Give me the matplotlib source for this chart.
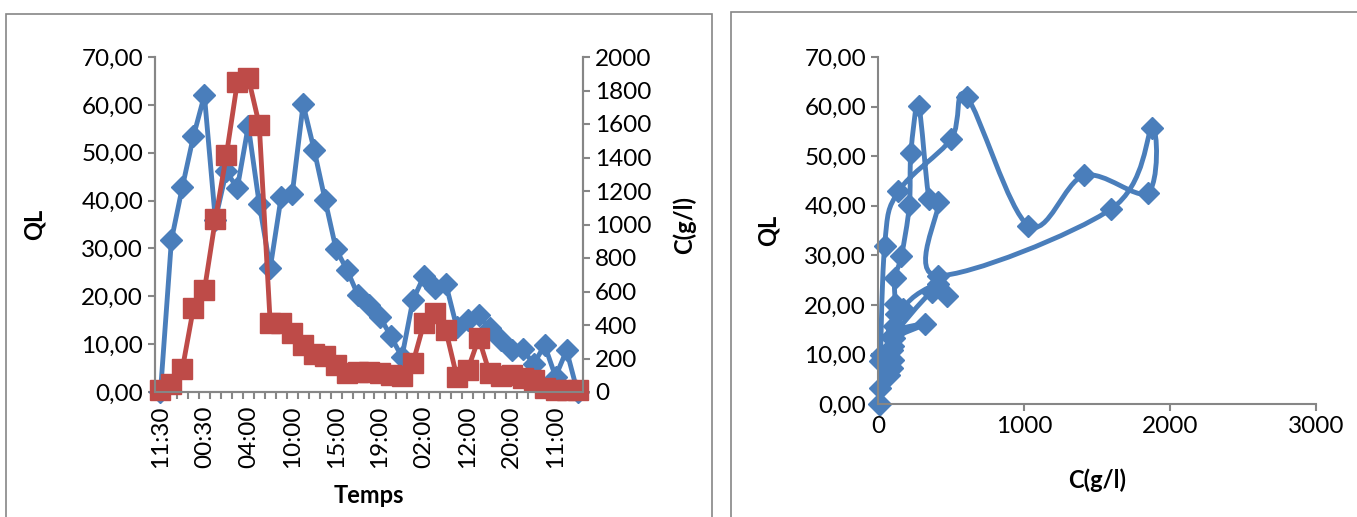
import numpy as np
import matplotlib.pyplot as plt
from matplotlib.path import Path
from matplotlib.patches import PathPatch, Rectangle

plt.rcParams['font.family'] = ['Lato', 'DejaVu Sans']

# QL (left axis) and C(g/l) (right axis), one value per time step
ql = [0.0, 31.8, 42.9, 53.4, 62.0, 36.0, 46.1, 42.6, 55.6, 39.3,
      25.9, 40.8, 41.3, 60.1, 50.6, 40.1, 29.8, 25.5, 20.2, 18.2,
      15.7, 11.6, 7.3, 19.2, 24.2, 21.7, 22.6, 13.5, 15.0, 16.1,
      13.3, 10.8, 8.8, 9.0, 5.8, 9.8, 3.2, 8.7, 0.0]
conc = [10, 45, 140, 500, 607, 1030, 1412, 1848, 1877, 1595,
        410, 414, 350, 278, 225, 215, 160, 115, 118, 120,
        113, 101, 95, 173, 410, 470, 368, 92, 133, 321,
        111, 95, 101, 82, 72, 22, 12, 12, 12]
temps_labels = ['11:30', '00:30', '04:00', '10:00', '15:00',
                '19:00', '02:00', '12:00', '20:00', '11:00']
label_step = 4

blue = '#4a7ebb'
red = '#be4b48'
grey = '#868686'
fs_tick = 17.5
fs_lab = 17


def fr(v):
    return ('%.2f' % v).replace('.', ',')


def smooth_path(x, y):
    # excel-like smoothed line (catmull-rom as cubic bezier)
    pts = np.column_stack([x, y]).astype(float)
    n = len(pts)
    verts = [pts[0]]
    codes = [Path.MOVETO]
    for i in range(n - 1):
        p0 = pts[max(i - 1, 0)]
        p1 = pts[i]
        p2 = pts[i + 1]
        p3 = pts[min(i + 2, n - 1)]
        verts += [p1 + (p2 - p0) / 6.0, p2 - (p3 - p1) / 6.0, p2]
        codes += [Path.CURVE4] * 3
    return Path(verts, codes)


def style_axis(ax):
    for s in ax.spines.values():
        s.set_color(grey)
        s.set_linewidth(1.5)
    ax.tick_params(colors=grey, labelcolor='black', width=1.5, length=5,
                   labelsize=fs_tick)


fig = plt.figure(figsize=(13.57, 5.17), dpi=100)

# frames round the two charts
fig.patches.append(Rectangle((6 / 1357, -0.05), 706 / 1357, 1 - 14 / 517 + 0.05,
                             transform=fig.transFigure, fill=False,
                             edgecolor=grey, lw=1.2))
fig.patches.append(Rectangle((731 / 1357, -0.05), 0.6, 1 - 12 / 517 + 0.05,
                             transform=fig.transFigure, fill=False,
                             edgecolor=grey, lw=1.2))

# ---- left chart: QL and C against time
ax1 = fig.add_axes([155 / 1357, 1 - 392 / 517, 428 / 1357, 335 / 517])
idx = np.arange(len(ql))
ax1.plot(idx, ql, color=blue, lw=3.5, marker='D', ms=11, mfc=blue, mec=blue)
ax1.set_xlim(-0.5, len(ql) - 0.5)
ax1.set_ylim(0, 70)
ax1.set_yticks(np.arange(0, 71, 10))
ax1.set_yticklabels([fr(v) for v in np.arange(0, 71, 10)])
ax1.set_xticks(idx[::label_step])
ax1.set_xticklabels(temps_labels, rotation=90)
ax1.set_xticks(np.arange(-0.5, len(ql), 1), minor=True)
style_axis(ax1)
ax1.tick_params(axis='x', which='major', length=0, pad=10)
ax1.tick_params(axis='x', which='minor', length=5, width=1.5, color=grey)
ax1.spines['top'].set_visible(False)
ax1.set_ylabel('QL', fontsize=fs_lab, fontweight='bold')
ax1.yaxis.set_label_coords(-0.255, 0.5)
ax1.set_xlabel('Temps', fontsize=fs_lab, fontweight='bold')
ax1.xaxis.set_label_coords(0.5, -0.275)

ax2 = ax1.twinx()
ax2.plot(idx, conc, color=red, lw=3.5, marker='s', ms=15, mfc=red, mec=red)
ax2.set_ylim(0, 2000)
ax2.set_yticks(np.arange(0, 2001, 200))
style_axis(ax2)
ax2.spines['top'].set_visible(False)
ax2.set_ylabel('C(g/l)', fontsize=fs_lab, fontweight='bold')
ax2.yaxis.set_label_coords(1.21, 0.5)

# ---- right chart: QL against C
ax3 = fig.add_axes([878 / 1357, 1 - 404 / 517, 438 / 1357, 347 / 517])
ax3.add_patch(PathPatch(smooth_path(conc, ql), fill=False, edgecolor=blue,
                        lw=3.5, transform=ax3.transData))
ax3.plot(conc, ql, ls='none', marker='D', ms=11, mfc=blue, mec=blue)
ax3.set_xlim(0, 3000)
ax3.set_ylim(0, 70)
ax3.set_xticks([0, 1000, 2000, 3000])
ax3.set_yticks(np.arange(0, 71, 10))
ax3.set_yticklabels([fr(v) for v in np.arange(0, 71, 10)])
style_axis(ax3)
ax3.spines['top'].set_visible(False)
ax3.spines['right'].set_visible(False)
ax3.set_ylabel('QL', fontsize=fs_lab, fontweight='bold')
ax3.yaxis.set_label_coords(-0.225, 0.5)
ax3.set_xlabel('C(g/l)', fontsize=fs_lab, fontweight='bold')
ax3.xaxis.set_label_coords(0.5, -0.185)
for ln in ax1.lines + ax2.lines + ax3.lines:
    ln.set_clip_on(False)

fig.savefig('out.png', dpi=100)
